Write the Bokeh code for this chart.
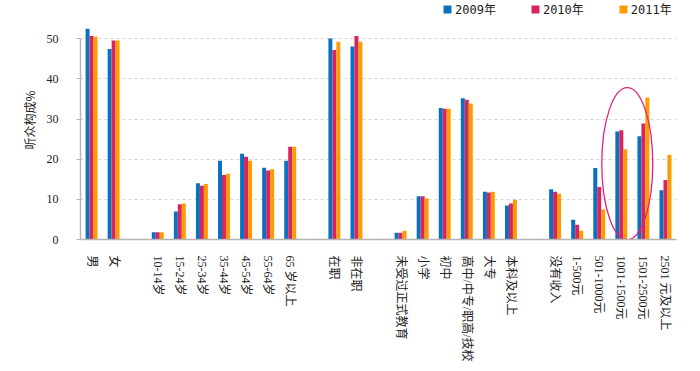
from bokeh.plotting import figure
from bokeh.models import (Range1d, FixedTicker, Legend, LegendItem, ColumnDataSource, Ellipse)
from bokeh.embed import file_html
from bokeh.resources import INLINE

# ---- data ----
categories = ["男", "女",
              "10-14岁", "15-24岁", "25-34岁", "35-44岁", "45-54岁", "55-64岁", "65 岁以上",
              "在职", "非在职",
              "未受过正式教育", "小学", "初中", "高中/中专/职高/技校", "大专", "本科及以上",
              "没有收入", "1-500元", "501-1000元", "1001-1500元", "1501-2500元", "2501 元及以上"]
group_sizes = [2, 7, 2, 6, 6]
years = ["2009年", "2010年", "2011年"]
v2009 = [52.5, 47.5, 1.8, 7.0, 14.0, 19.6, 21.4, 17.9, 19.6, 50.1, 48.1,
         1.7, 10.8, 32.8, 35.2, 11.9, 8.5, 12.5, 4.9, 17.8, 26.9, 25.7, 12.3]
v2010 = [50.7, 49.6, 1.8, 8.8, 13.4, 16.1, 20.6, 17.2, 23.1, 47.2, 50.7,
         1.7, 10.8, 32.6, 34.8, 11.7, 9.0, 11.9, 3.7, 13.1, 27.2, 28.9, 14.8]
v2011 = [50.5, 49.6, 1.8, 9.0, 13.8, 16.4, 19.6, 17.5, 23.1, 49.3, 49.3,
         2.2, 10.2, 32.6, 33.9, 11.9, 9.9, 11.4, 2.2, 7.5, 22.5, 35.4, 21.1]
colors = ["#0A70C0", "#D9255F", "#FF9A00"]
y_ticks = [0, 10, 20, 30, 40, 50]
y_label = "听众构成%"
# highlight ellipse around the income 1001-2500 bars
hl_x, hl_y, hl_w, hl_h = 24.27, 18.9, 2.31, 37.9

# positions: one empty slot between groups
xpos = []
g_start = 0
for gi, n in enumerate(group_sizes):
    for k in range(n):
        xpos.append(g_start + k)
    g_start += n + 1
n_slots = g_start - 1

p = figure(width=692, height=368, output_backend="svg", toolbar_location=None,
           x_range=Range1d(-0.5, n_slots - 0.5), y_range=Range1d(0, 59.56),
           min_border_left=80, min_border_right=16, min_border_top=0, min_border_bottom=129)
p.outline_line_color = None
p.background_fill_color = "white"

bw = 0.18
renderers = []
for vals, col, off in zip([v2009, v2010, v2011], colors, [-bw, 0, bw]):
    src = ColumnDataSource(dict(x=[x + off for x in xpos], top=vals))
    r = p.vbar(x="x", top="top", width=bw, source=src, fill_color=col, line_color=None)
    renderers.append(r)

p.add_glyph(Ellipse(x=hl_x, y=hl_y, width=hl_w, height=hl_h,
                    fill_color=None, line_color="#E3217C", line_width=1.3))

font_serif = "Liberation Serif, Noto Sans CJK SC"

# x axis
p.xaxis.ticker = FixedTicker(ticks=xpos)
p.xaxis.major_label_overrides = {x: c for x, c in zip(xpos, categories)}
p.xaxis.major_label_orientation = "vertical"
p.xaxis.major_tick_line_color = None
p.xaxis.minor_tick_line_color = None
p.xaxis.axis_line_color = "#b5b5b5"
p.xaxis.axis_line_width = 1.5
p.xaxis.major_label_text_font = font_serif
p.xaxis.major_label_text_font_size = "12px"
p.xaxis.major_label_text_color = "#222222"
p.xaxis.major_label_standoff = 10

# y axis
p.yaxis.ticker = FixedTicker(ticks=y_ticks)
p.yaxis.bounds = (0, 50)
p.yaxis.axis_line_color = "#b5b5b5"
p.yaxis.axis_line_width = 1.5
p.yaxis.major_tick_line_color = "#b5b5b5"
p.yaxis.major_tick_out = 4
p.yaxis.major_tick_in = 0
p.yaxis.minor_tick_line_color = None
p.yaxis.major_label_text_font = font_serif
p.yaxis.major_label_text_font_size = "12px"
p.yaxis.major_label_text_color = "#222222"
p.yaxis.major_label_standoff = 18
p.yaxis.axis_label = y_label
p.yaxis.axis_label_text_font = "Noto Sans CJK SC"
p.yaxis.axis_label_text_font_style = "normal"
p.yaxis.axis_label_text_font_size = "12px"
p.yaxis.axis_label_text_color = "#222222"
p.yaxis.axis_label_standoff = 6

p.xgrid.grid_line_color = None
p.ygrid.grid_line_color = "#d5d5d5"
p.ygrid.grid_line_dash = "3 3"

legend = Legend(items=[LegendItem(label=y, renderers=[r]) for y, r in zip(years, renderers)],
                orientation="horizontal", location=(362, 222),
                padding=0, margin=0, spacing=34, label_standoff=3,
                glyph_width=10, glyph_height=10, label_height=12,
                border_line_color=None, background_fill_alpha=0,
                label_text_font="DejaVu Sans Mono, Noto Sans CJK SC",
                label_text_font_size="12px", label_text_color="#222222")
p.add_layout(legend, "center")

open("out.html", "w").write(file_html(p, INLINE))
